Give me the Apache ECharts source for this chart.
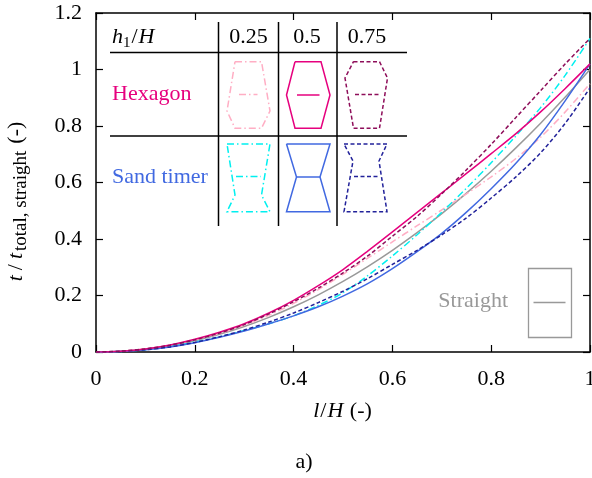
<!DOCTYPE html>
<html><head><meta charset="utf-8">
<script src="https://cdn.jsdelivr.net/npm/echarts@6/dist/echarts.min.js"></script>
<style>html,body{margin:0;padding:0;background:#fff}#c{width:592px;height:478px}</style>
</head><body><div id="c"></div>
<script>
// ---- data ----
const lVals   = [0,0.05,0.1,0.15,0.2,0.25,0.3,0.35,0.4,0.45,0.5,0.55,0.6,0.65,0.7,0.75,0.8,0.85,0.9,0.95,1];
const straight = [0,0.0025,0.01,0.0225,0.04,0.0625,0.09,0.1225,0.16,0.2025,0.25,0.3025,0.36,0.4225,0.49,0.5625,0.64,0.7225,0.81,0.9025,1.0];
const hexagon025 = [0,0.003,0.011,0.024,0.043,0.066,0.095,0.13,0.172,0.221,0.275,0.332,0.39,0.447,0.503,0.56,0.62,0.685,0.76,0.85,0.95];
const hexagon050 = [0,0.003,0.011,0.025,0.045,0.07,0.10,0.138,0.183,0.235,0.292,0.357,0.425,0.494,0.563,0.632,0.702,0.773,0.85,0.933,1.02];
const hexagon075 = [0,0.003,0.011,0.024,0.043,0.067,0.097,0.135,0.178,0.226,0.28,0.34,0.41,0.48,0.56,0.645,0.735,0.83,0.925,1.02,1.11];
const sand025 = [0,0.002,0.008,0.019,0.035,0.054,0.076,0.10,0.128,0.165,0.21,0.27,0.34,0.415,0.495,0.58,0.67,0.765,0.865,0.98,1.11];
const sand050 = [0,0.002,0.008,0.018,0.033,0.052,0.074,0.10,0.128,0.16,0.198,0.242,0.295,0.355,0.42,0.495,0.578,0.668,0.77,0.89,1.02];
const sand075 = [0,0.002,0.008,0.018,0.034,0.054,0.078,0.106,0.138,0.175,0.215,0.26,0.31,0.36,0.415,0.475,0.545,0.62,0.705,0.81,0.935];
const colHeaders = ['0.25','0.5','0.75'];
const rowHeaders = ['Hexagon','Sand timer'];

const FF = '"Liberation Serif","DejaVu Serif",serif';
const C = {
  straight:'#999999', hex025:'#FFAEC4', hex050:'#E6007E', hex075:'#8E0E5A',
  sand025:'#00F0F0', sand050:'#4169E1', sand075:'#22229A'
};
const DASH = [4,2.5];
const DASHDOT = [7,3,1.5,3];

function pairs(ys){ return lVals.map((x,i)=>[x,ys[i]]); }
function ser(name, ys, color, type){
  return {name, type:'line', data:pairs(ys), showSymbol:false, smooth:0.3, silent:true,
    lineStyle:{color, width:1.5, type: type||'solid'}, z:3};
}

const axisCommon = {
  type:'value', splitLine:{show:false},
  axisLine:{show:true, onZero:false, lineStyle:{color:'#000', width:1.5}},
  axisTick:{show:true, inside:true, length:7, lineStyle:{color:'#000', width:1.2}}
};
const labelStyle = {fontSize:22, fontFamily:FF, color:'#000'};

// graphic elements (inset table + straight legend)
const g = [];
function L(x1,y1,x2,y2,stroke,w,dash){ g.push({type:'line', silent:true, shape:{x1,y1,x2,y2}, style:{stroke:stroke||'#000', lineWidth:w||1.5, lineDash:dash||null}}); }
function P(points,stroke,dash){ g.push({type:'polyline', silent:true, shape:{points}, style:{stroke, fill:null, lineWidth:1.5, lineDash:dash||null}}); }
function T(text,x,y,fill,align,rich){ g.push({type:'text', silent:true, style:{text, x, y, fill:fill||'#000', fontSize:22, fontFamily:FF, align:align||'left', verticalAlign:'middle', rich:rich}}); }

// table lines
L(110,52.5,407,52.5); L(110,136,407,136);
L(218.5,22,218.5,226); L(278.5,22,278.5,226); L(337,22,337,226);
// headers
T('{i|h}{s|1}{n|/}{i|H}',112,37,'#000','left',{
  i:{fontSize:22,fontFamily:FF,fontStyle:'italic',lineHeight:28,fill:'#000'},
  n:{fontSize:22,fontFamily:FF,lineHeight:28,fill:'#000',padding:[0,1,0,1]},
  s:{fontSize:15,fontFamily:FF,verticalAlign:'bottom',fill:'#000'}});
T(colHeaders[0],248.5,37,'#000','center');
T(colHeaders[1],307,37,'#000','center');
T(colHeaders[2],367,37,'#000','center');
T(rowHeaders[0],112,94,C.hex050,'left');
T(rowHeaders[1],112,177,C.sand050,'left');
// hexagon shapes
P([[235,61.7],[261.5,61.7],[270,111],[261.5,128.3],[235,128.3],[227,111],[235,61.7]],C.hex025,DASHDOT);
L(239,94.5,257.5,94.5,C.hex025,1.5,DASHDOT);
P([[295,61.7],[321,61.7],[330,95],[321,128.3],[295,128.3],[286.5,95],[295,61.7]],C.hex050);
L(297,95,319.5,95,C.hex050,1.5);
P([[353.5,61.7],[379.5,61.7],[387.5,78],[379.5,128.3],[353.5,128.3],[345,78],[353.5,61.7]],C.hex075,DASH);
L(355,94.5,378.5,94.5,C.hex075,1.5,DASH);
// sand timer shapes
P([[227,144],[270,144],[261.5,195],[270,211.7],[227,211.7],[235,195],[227,144]],C.sand025,DASHDOT);
L(236,176.5,261,176.5,C.sand025,1.5,DASHDOT);
P([[286.5,144],[330,144],[320,177],[330,211.7],[286.5,211.7],[296.5,177],[286.5,144]],C.sand050);
L(296.5,177,320,177,C.sand050,1.5);
P([[344,144],[387,144],[379,161],[387,211.7],[344,211.7],[353,161],[344,144]],C.sand075,DASH);
L(354,176.5,378,176.5,C.sand075,1.5,DASH);
// straight legend
g.push({type:'rect', silent:true, shape:{x:528.5,y:268.5,width:43,height:69}, style:{stroke:C.straight, fill:null, lineWidth:1.3}});
L(533.5,302.5,565.5,302.5,C.straight,1.5);
T('Straight',508,301,C.straight,'right');
// caption
T('a)',304,462,'#000','center');

const option = {
  animation:false,
  backgroundColor:'#fff',
  grid:{left:96, right:2, top:13, bottom:126, containLabel:false, outerBoundsMode:'none'},
  xAxis:[
    Object.assign({}, axisCommon, {position:'bottom', min:0, max:1, interval:0.2,
      axisLabel:Object.assign({show:true, margin:16, showMinLabel:true, showMaxLabel:true}, labelStyle),
      name:'{i|l}{n|/}{i|H}{n| (-)}', nameLocation:'middle', nameGap:48,
      nameTextStyle:{fontSize:22, fontFamily:FF, color:'#000', rich:{
        i:{fontSize:22,fontFamily:FF,fontStyle:'italic',color:'#000'},
        n:{fontSize:22,fontFamily:FF,color:'#000',padding:[0,1,0,1]}}}}),
    Object.assign({}, axisCommon, {position:'top', min:0, max:1, interval:0.2, axisLabel:{show:false}})
  ],
  yAxis:[
    Object.assign({}, axisCommon, {position:'left', min:0, max:1.2, interval:0.2,
      axisLabel:Object.assign({show:true, margin:14, showMinLabel:true, showMaxLabel:true}, labelStyle),
      name:'{i|t}{n|/}{i|t}{s|total, straight}{p|(-)}', nameLocation:'middle', nameRotate:90, nameGap:65,
      nameTextStyle:{fontSize:22, fontFamily:FF, color:'#000', padding:[0,40,0,0], rich:{
        i:{fontSize:22,fontFamily:FF,fontStyle:'italic',color:'#000',lineHeight:30,padding:[0,2,0,2]},
        n:{fontSize:22,fontFamily:FF,color:'#000',lineHeight:30,padding:[0,3,0,3]},
        p:{fontSize:22,fontFamily:FF,color:'#000',lineHeight:30,padding:[0,0,0,7]},
        s:{fontSize:19,fontFamily:FF,color:'#000',verticalAlign:'bottom'}}}}),
    Object.assign({}, axisCommon, {position:'right', min:0, max:1.2, interval:0.2, axisLabel:{show:false}})
  ],
  series:[
    ser('Straight', straight, C.straight),
    ser('Hexagon 0.25', hexagon025, C.hex025, DASHDOT),
    ser('Sand timer 0.25', sand025, C.sand025, DASHDOT),
    ser('Sand timer 0.5', sand050, C.sand050),
    ser('Sand timer 0.75', sand075, C.sand075, DASH),
    ser('Hexagon 0.5', hexagon050, C.hex050),
    ser('Hexagon 0.75', hexagon075, C.hex075, DASH)
  ],
  graphic:{elements:g}
};
const chart = echarts.init(document.getElementById('c'), null, {renderer:'canvas'});
chart.setOption(option);
</script>
</body></html>
